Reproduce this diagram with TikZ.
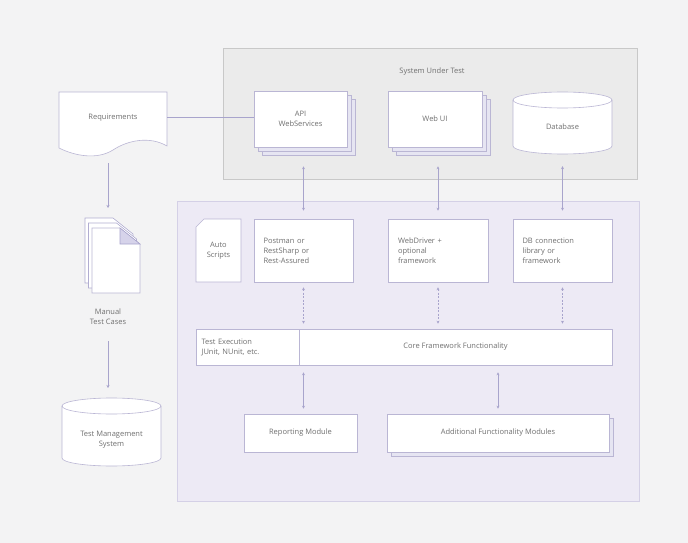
\documentclass[tikz,border=0pt]{standalone}
\usepackage{fontspec}
\setmainfont{Open Sans}
\usetikzlibrary{arrows.meta}
\definecolor{bgc}{HTML}{F3F3F4}
\definecolor{sutfill}{HTML}{EBEBEB}
\definecolor{sutdraw}{HTML}{C8C8C8}
\definecolor{fwfill}{HTML}{EDEAF5}
\definecolor{fwdraw}{HTML}{D4D0E6}
\definecolor{lnc}{HTML}{A8A4CC}
\definecolor{boxd}{HTML}{BAB6D4}
\definecolor{txt}{HTML}{707070}
\definecolor{shad}{HTML}{D6D3EA}
\tikzset{
  lbl/.style={font=\fontsize{7.5}{10}\selectfont, text=txt, align=center},
  boxn/.style={draw=boxd, fill=white, line width=0.6pt, lbl},
  plain/.style={lbl, inner sep=0pt},
  arr/.style={draw=lnc, line width=0.6pt, {Stealth[length=3pt,width=3pt]}-{Stealth[length=3pt,width=3pt]}},
  darr/.style={arr, dashed, dash pattern=on 2pt off 1.5pt},
  harr/.style={draw=lnc, line width=0.6pt, -{Stealth[length=3pt,width=3pt]}},
  conn/.style={draw=lnc, line width=0.6pt},
  shadowr/.style={draw=boxd, fill=shad!60, line width=0.5pt}
}
\begin{document}
\begin{tikzpicture}[x=1pt,y=-1pt]
\fill[bgc] (0,0) rectangle (688,543);
\useasboundingbox (0,0) rectangle (688,543);

% System under test container
\draw[sutdraw, fill=sutfill, line width=0.8pt] (223,48) rectangle (637,179);
\node[plain] (sut) at (432,72) {System Under Test};

% framework container
\draw[fwdraw, fill=fwfill, line width=0.8pt] (177,201) rectangle (639,501);

% API stack
\draw[shadowr] (262,99) rectangle (355,155);
\draw[shadowr] (258,95) rectangle (351,151);
\node[boxn, minimum width=93pt, minimum height=56pt] (api) at (300.5,119) {API\\WebServices};
% Web UI stack
\draw[shadowr] (396,99) rectangle (490,155);
\draw[shadowr] (392,95) rectangle (486,151);
\node[boxn, minimum width=94pt, minimum height=56pt] (webui) at (435,119) {Web UI};
% Database cylinder
\draw[boxd, fill=white, line width=0.6pt] (513,100) -- (513,146) arc[start angle=180, end angle=360, x radius=49.5pt, y radius=8pt] -- (612,100) arc[start angle=0, end angle=180, x radius=49.5pt, y radius=8pt] -- cycle;
\draw[boxd, line width=0.6pt] (513,100) arc[start angle=180, end angle=360, x radius=49.5pt, y radius=8pt];
\node[plain, minimum width=99pt, minimum height=54pt] (db) at (562.5,127) {Database};

% Requirements document
\draw[boxd, fill=white, line width=0.6pt] (59,92) -- (167,92) -- (167,146)
  .. controls (150,136) and (128,140) .. (113,150)
  .. controls (97,160) and (75,156) .. (59,148) -- cycle;
\node[plain] (req) at (113,118) {Requirements};
\coordinate (reqR) at (167,117);
\coordinate (reqB) at (108,163);
\draw[conn] (reqR) -- (api.west |- reqR);

% Manual test cases icon
\foreach \dx/\dy in {-7/-10,-3.5/-5}{
  \draw[draw=lnc!90, fill=white, line width=0.6pt, shift={(\dx,\dy)}] (92,228) -- (120,228) -- (140,244) -- (140,293) -- (92,293) -- cycle;
}
\draw[boxd, fill=white, line width=0.6pt] (92,228) -- (120,228) -- (140,244) -- (140,293) -- (92,293) -- cycle;
\draw[lnc, fill=shad, line width=0.6pt] (120,228) -- (120,244) -- (140,244) -- cycle;
\coordinate (mtcTop) at (108,208);
\node[plain] (mtc) at (108,317) {Manual\\Test Cases};

% Test Management System cylinder
\draw[boxd, fill=white, line width=0.6pt] (62,406) -- (62,458) arc[start angle=180, end angle=360, x radius=49.5pt, y radius=8pt] -- (161,406) arc[start angle=0, end angle=180, x radius=49.5pt, y radius=8pt] -- cycle;
\draw[boxd, line width=0.6pt] (62,406) arc[start angle=180, end angle=360, x radius=49.5pt, y radius=8pt];
\node[plain] (tms) at (111.5,440) {Test Management\\System};

\draw[harr] (reqB) -- (mtcTop);
\draw[harr] (108,341) -- (108,388);

% Auto Scripts
\draw[boxd, fill=white, line width=0.6pt] (204,219) -- (241,219) -- (241,282) -- (196,282) -- (196,227) -- cycle;
\node[plain] (auto) at (218.5,251) {Auto\\Scripts};

% tool boxes
\node[boxn, minimum width=99pt, minimum height=63pt, text width=80pt, align=left] (post) at (303.5,250.5) {Postman or\\RestSharp or\\Rest-Assured};
\node[boxn, minimum width=100pt, minimum height=63pt, text width=80pt, align=left] (wd) at (438,250.5) {WebDriver +\\optional\\framework};
\node[boxn, minimum width=99pt, minimum height=63pt, text width=80pt, align=left] (dbc) at (562.5,250.5) {DB connection\\library or\\framework};

% core bar
\node[boxn, minimum width=103pt, minimum height=36pt, text width=92pt, align=left] (texec) at (247.5,347) {Test Execution\\JUnit, NUnit, etc.};
\node[boxn, minimum width=313pt, minimum height=36pt] (core) at (455.5,347) {Core Framework Functionality};

% bottom modules
\node[boxn, minimum width=113pt, minimum height=38pt] (rep) at (300.5,433) {Reporting Module};
\draw[shadowr] (391,418) rectangle (613,456);
\node[boxn, minimum width=222pt, minimum height=38pt] (add) at (498,433) {Additional Functionality Modules};

% arrows SUT <-> tools
\draw[arr, shorten <=19pt, shorten >=8pt] (post.north |- api.south) -- (post.north);
\draw[arr, shorten <=19pt, shorten >=8pt] (wd.north |- webui.south) -- (wd.north);
\draw[arr, shorten <=12pt, shorten >=8pt] (dbc.north |- db.south) -- (dbc.north);
% dashed tools <-> core
\draw[darr, shorten <=5pt, shorten >=5pt] (post.south) -- (post.south |- core.north);
\draw[darr, shorten <=5pt, shorten >=5pt] (wd.south) -- (wd.south |- core.north);
\draw[darr, shorten <=5pt, shorten >=5pt] (dbc.south) -- (dbc.south |- core.north);
% core <-> modules
\draw[arr, shorten <=7pt, shorten >=5pt] (post.south |- core.south) -- (post.south |- rep.north);
\draw[arr, shorten <=7pt, shorten >=5pt] (add.north |- core.south) -- (add.north);
\end{tikzpicture}
\end{document}
